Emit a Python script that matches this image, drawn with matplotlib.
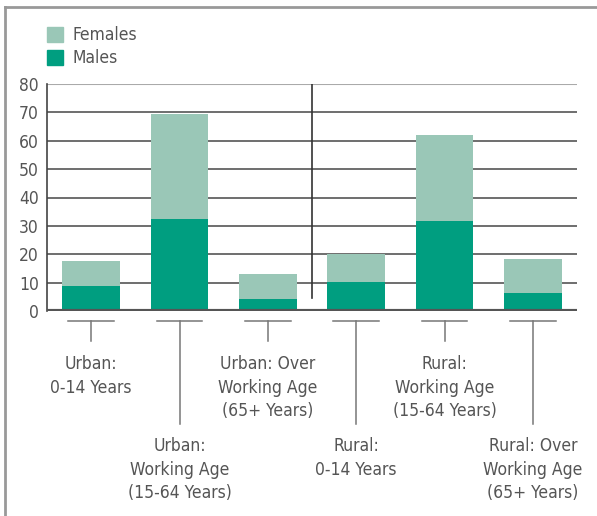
import matplotlib.pyplot as plt
from matplotlib.lines import Line2D
from matplotlib.patches import Patch

# values (percent)
categories = ["Urban:\n0-14 Years",
              "Urban:\nWorking Age\n(15-64 Years)",
              "Urban: Over\nWorking Age\n(65+ Years)",
              "Rural:\n0-14 Years",
              "Rural:\nWorking Age\n(15-64 Years)",
              "Rural: Over\nWorking Age\n(65+ Years)"]
males = [8.7, 32.4, 4.1, 10.1, 31.7, 6.3]
totals = [17.5, 69.5, 13.0, 20.1, 62.0, 18.3]
females = [t - m for t, m in zip(totals, males)]
label_row = [0, 1, 0, 1, 0, 1]  # 0 = upper row, 1 = lower row
yticks = [0, 10, 20, 30, 40, 50, 60, 70, 80]

c_fem = "#9ac7b7"
c_male = "#009e80"
c_text = "#555555"

plt.rcParams['font.family'] = ['DejaVu Sans']
plt.rcParams['font.stretch'] = 'condensed'

W, H = 597, 516
fig = plt.figure(figsize=(W / 100, H / 100), dpi=100)
ax = fig.add_axes([47 / W, (H - 311) / H, 530 / W, 227 / H])

x = list(range(len(categories)))
ax.bar(x, males, width=0.65, color=c_male, zorder=3)
ax.bar(x, females, width=0.65, bottom=males, color=c_fem, zorder=3)

ax.set_xlim(-0.5, 5.5)
ax.set_ylim(0, 80)
for v in yticks[1:-1]:
    ax.axhline(v, color="#555555", lw=1.2, zorder=1)
ax.axhline(80, color="#aaaaaa", lw=1.5, zorder=1)
ax.axhline(0, color="#555555", lw=3, zorder=4)

# divider between urban and rural
ax.plot([2.5, 2.5], [4.5, 80], color="#333333", lw=1.2, zorder=2)

for s in ["top", "right", "bottom"]:
    ax.spines[s].set_visible(False)
ax.spines["left"].set_color("#444444")
ax.spines["left"].set_linewidth(1.2)

ax.set_yticks(yticks)
ax.set_yticklabels([str(v) for v in yticks], fontsize=12.5, color=c_text)
ax.tick_params(axis="y", length=0, pad=6)
ax.set_xticks([])

# custom category labels with leader lines
tr = ax.get_xaxis_transform()
def ay(p):
    return (311 - p) / 227.0

for i, lab in enumerate(categories):
    ax.add_line(Line2D([i - 0.26, i + 0.26], [ay(321), ay(321)], transform=tr,
                       color="#777777", lw=1.1, clip_on=False))
    end = 341 if label_row[i] == 0 else 424
    ax.add_line(Line2D([i, i], [ay(321), ay(end)], transform=tr,
                       color="#777777", lw=1.1, clip_on=False))
    ytop = 355 if label_row[i] == 0 else 437
    ax.text(i, ay(ytop), lab, transform=tr, ha="center", va="top",
            fontsize=12.5, color=c_text, linespacing=1.4)

# legend
handles = [Patch(color=c_fem), Patch(color=c_male)]
fig.legend(handles, ["Females", "Males"], loc="upper left",
           bbox_to_anchor=(47 / W, (H - 26) / H), frameon=False,
           fontsize=12.5, handlelength=0.95, handleheight=0.95,
           handletextpad=0.5, labelspacing=0.3, borderpad=0,
           borderaxespad=0, labelcolor=c_text)

# frame lines on top and left of the figure
fig.add_artist(Line2D([5 / W, 1], [1 - 6.5 / H, 1 - 6.5 / H], transform=fig.transFigure,
                      color="#999999", lw=2))
fig.add_artist(Line2D([5 / W, 5 / W], [0, 1 - 6.5 / H], transform=fig.transFigure,
                      color="#999999", lw=2))

fig.savefig("out.png", dpi=100)
